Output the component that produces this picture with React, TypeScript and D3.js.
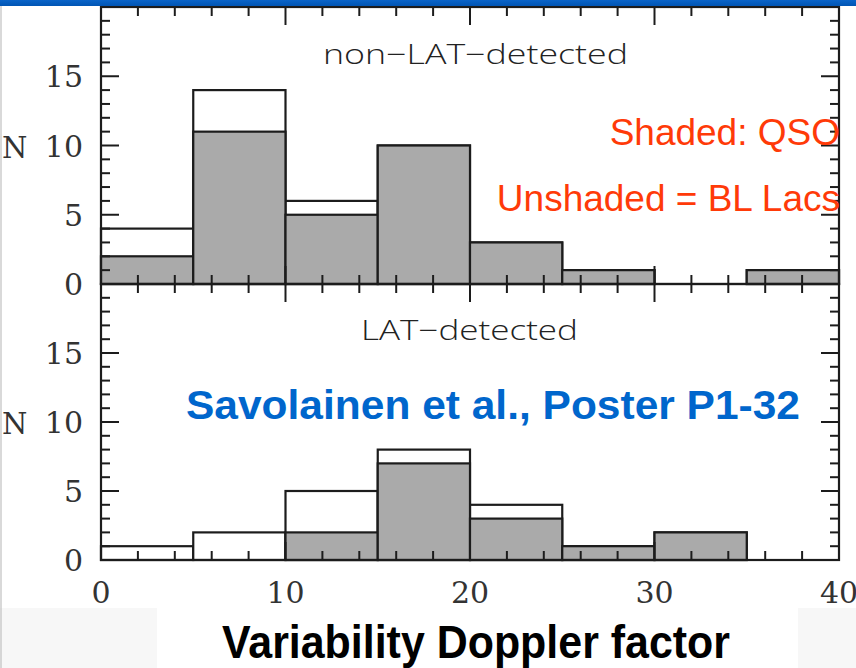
import React from "react";
import * as d3 from "d3";

// Histogram bins of the variability Doppler factor (lower bin edges, width 5)
const binStarts = [0, 5, 10, 15, 20, 25, 30, 35];
const binWidth = 5;

// non-LAT-detected sources: all sources and the QSO subset
const nonLatTotal = [4, 14, 6, 10, 3, 1, 0, 1];
const nonLatQso = [2, 11, 5, 10, 3, 1, 0, 1];

// LAT-detected sources: all sources and the QSO subset
const latTotal = [1, 2, 5, 8, 4, 1, 2, 0];
const latQso = [0, 0, 2, 7, 3, 1, 2, 0];

const xTickLabels = [0, 10, 20, 30, 40];
const yTickLabels = [0, 5, 10, 15];

const W = 856;
const H = 668;
const LEFT = 101;
const RIGHT = 839;

const SERIF = "'DejaVu Serif', serif";
const SANS = "'Liberation Sans', Arial, sans-serif";
const INK = "#1c1c1c";
const LABEL = "#333333";

const x = d3.scaleLinear().domain([0, 40]).range([LEFT, RIGHT]);

type PanelProps = {
  total: number[];
  qso: number[];
  yTop: number;
  yBottom: number;
  title: string;
  titleX: number;
  titleLen: number;
};

function Panel({ total, qso, yTop, yBottom, title, titleX, titleLen }: PanelProps) {
  const y = d3.scaleLinear().domain([0, 20]).range([yBottom, yTop]);
  const yMinor = d3.range(1, 20);
  const xMinor = d3.range(2, 40, 2);

  return (
    <g>
      {/* bars: all sources (white) with the QSO part shaded */}
      {binStarts.map((b, i) =>
        total[i] > 0 ? (
          <rect
            key={"t" + i}
            x={x(b)}
            y={y(total[i])}
            width={x(b + binWidth) - x(b)}
            height={y(0) - y(total[i])}
            fill="#ffffff"
            stroke={INK}
            strokeWidth={2.2}
          />
        ) : null
      )}
      {binStarts.map((b, i) =>
        qso[i] > 0 ? (
          <rect
            key={"q" + i}
            x={x(b)}
            y={y(qso[i])}
            width={x(b + binWidth) - x(b)}
            height={y(0) - y(qso[i])}
            fill="#aaaaaa"
            stroke={INK}
            strokeWidth={2.2}
          />
        ) : null
      )}

      {/* y ticks on both sides */}
      {yMinor.map((v) => {
        const len = v % 5 === 0 ? 18 : 9;
        return (
          <g key={"yt" + v}>
            <line x1={LEFT} x2={LEFT + len} y1={y(v)} y2={y(v)} stroke={INK} strokeWidth={2} />
            <line x1={RIGHT} x2={RIGHT - len} y1={y(v)} y2={y(v)} stroke={INK} strokeWidth={2} />
          </g>
        );
      })}

      {/* x ticks on bottom and top edges */}
      {xMinor.map((v) => {
        const len = v % 10 === 0 ? 18 : 9;
        return (
          <g key={"xt" + v}>
            <line x1={x(v)} x2={x(v)} y1={yBottom} y2={yBottom - len} stroke={INK} strokeWidth={2} />
            <line x1={x(v)} x2={x(v)} y1={yTop} y2={yTop + len} stroke={INK} strokeWidth={2} />
          </g>
        );
      })}

      {/* frame */}
      <rect
        x={LEFT}
        y={yTop}
        width={RIGHT - LEFT}
        height={yBottom - yTop}
        fill="none"
        stroke={INK}
        strokeWidth={2.2}
      />

      {/* y tick labels */}
      {yTickLabels.map((v) => (
        <text
          key={"yl" + v}
          x={83}
          y={y(v) + 11}
          textAnchor="end"
          fontFamily={SERIF}
          fontSize={30}
          fill={LABEL}
        >
          {v}
        </text>
      ))}
      <text x={2} y={y(10) + 12} fontFamily={SERIF} fontSize={29} fill={LABEL}>
        N
      </text>

      <text
        x={titleX}
        y={yTop + (title.startsWith("non") ? 57 : 56)}
        fontFamily="'Open Sans', 'DejaVu Sans', sans-serif"
        fontWeight={300}
        fontSize={28}
        fill="#222"
        textLength={titleLen}
        lengthAdjust="spacingAndGlyphs"
      >
        {title}
      </text>
    </g>
  );
}

export default function App() {
  return (
    <svg
      width={W}
      height={H}
      viewBox={`0 0 ${W} ${H}`}
      style={{ position: "absolute", left: 0, top: 0, background: "#ffffff" }}
    >
      {/* lower strip behind the axis title */}
      <rect x={0} y={608} width={W} height={H - 608} fill="#f7f7f7" />
      <rect x={157} y={608} width={641} height={H - 608} fill="#ffffff" />

      <Panel
        total={nonLatTotal}
        qso={nonLatQso}
        yTop={7}
        yBottom={284}
        title="non−LAT−detected"
        titleX={323}
        titleLen={305}
      />
      <Panel
        total={latTotal}
        qso={latQso}
        yTop={284}
        yBottom={560}
        title="LAT−detected"
        titleX={361}
        titleLen={217}
      />

      {/* x tick labels */}
      {xTickLabels.map((v) => (
        <text
          key={"xl" + v}
          x={x(v)}
          y={603}
          textAnchor="middle"
          fontFamily={SERIF}
          fontSize={30}
          fill={LABEL}
        >
          {v}
        </text>
      ))}

      {/* annotations */}
      <text x={840} y={145} textAnchor="end" fontFamily={SANS} fontSize={37} fill="#ff3a08">
        Shaded: QSO
      </text>
      <text x={840} y={211} textAnchor="end" fontFamily={SANS} fontSize={37} fill="#ff3a08">
        Unshaded = BL Lacs
      </text>
      <text
        x={186}
        y={419}
        fontFamily={SANS}
        fontWeight={700}
        fontSize={41}
        fill="#0066cc"
        textLength={614}
        lengthAdjust="spacingAndGlyphs"
      >
        Savolainen et al., Poster P1-32
      </text>
      <text
        x={222}
        y={658}
        fontFamily={SANS}
        fontWeight={700}
        fontSize={46}
        fill="#000"
        textLength={508}
        lengthAdjust="spacingAndGlyphs"
      >
        Variability Doppler factor
      </text>

      {/* slide border and header band */}
      <line x1={1} x2={1} y1={6} y2={H} stroke="#c0c0c0" strokeWidth={1.2} />
      <defs>
        <linearGradient id="band" x1="0" x2="0" y1="0" y2="1">
          <stop offset="0" stopColor="#0a64c8" />
          <stop offset="1" stopColor="#0055b4" />
        </linearGradient>
      </defs>
      <rect x={0} y={0} width={W} height={6} fill="url(#band)" />
    </svg>
  );
}
